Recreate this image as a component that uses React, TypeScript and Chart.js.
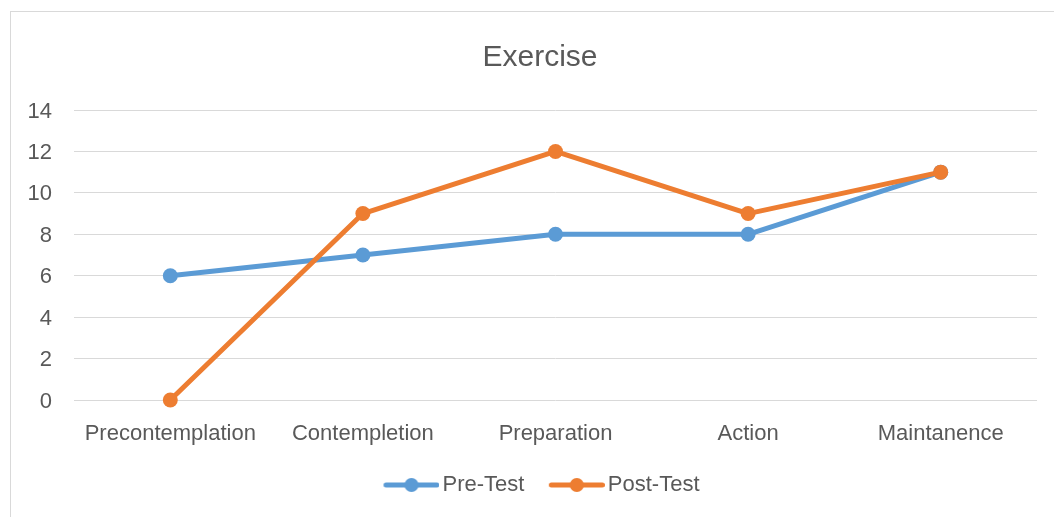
import React, { useEffect, useRef } from "react";
import { Chart, registerables } from "chart.js";

Chart.register(...registerables);

const categories = ["Precontemplation", "Contempletion", "Preparation", "Action", "Maintanence"];
const preTest = [6, 7, 8, 8, 11];
const postTest = [0, 9, 12, 9, 11];
const seriesNames = ["Pre-Test", "Post-Test"];
const seriesColors = ["#5B9BD5", "#ED7D31"];
const titleText = "Exercise";

const FONT = "'Liberation Sans', Arial, sans-serif";
const TEXT = "#595959";
const GRID = "#D9D9D9";

function makeLegendImage(color: string): HTMLCanvasElement {
  const c = document.createElement("canvas");
  c.width = 67;
  c.height = 16;
  const ctx = c.getContext("2d")!;
  const x0 = 11;
  const x1 = 67;
  ctx.strokeStyle = color;
  ctx.lineWidth = 5;
  ctx.lineCap = "round";
  ctx.beginPath();
  ctx.moveTo(x0 + 2.5, 8);
  ctx.lineTo(x1 - 2.5, 8);
  ctx.stroke();
  ctx.fillStyle = color;
  ctx.beginPath();
  ctx.arc((x0 + x1) / 2, 8, 7, 0, Math.PI * 2);
  ctx.fill();
  return c;
}

const borderPlugin = {
  id: "outerBorder",
  beforeDraw(chart: any) {
    const ctx = chart.ctx;
    ctx.save();
    ctx.strokeStyle = GRID;
    ctx.lineWidth = 1;
    ctx.strokeRect(10.5, 11.5, 2000, 2000);
    ctx.restore();
  },
};

export default function App() {
  const ref = useRef<HTMLCanvasElement>(null);
  useEffect(() => {
    document.body.style.margin = "0";
    const images = seriesColors.map(makeLegendImage);
    const chart = new Chart(ref.current!, {
      type: "line",
      data: {
        labels: categories,
        datasets: [
          {
            label: seriesNames[0],
            data: preTest,
            borderColor: seriesColors[0],
            backgroundColor: seriesColors[0],
            pointBackgroundColor: seriesColors[0],
            pointBorderWidth: 0,
            borderWidth: 5,
            pointRadius: 7.5,
            borderCapStyle: "round",
            borderJoinStyle: "round",
            tension: 0,
            clip: false,
            order: 1,
          },
          {
            label: seriesNames[1],
            data: postTest,
            borderColor: seriesColors[1],
            backgroundColor: seriesColors[1],
            pointBackgroundColor: seriesColors[1],
            pointBorderWidth: 0,
            borderWidth: 5,
            pointRadius: 7.5,
            borderCapStyle: "round",
            borderJoinStyle: "round",
            tension: 0,
            clip: false,
            order: 0,
          },
        ],
      },
      options: {
        animation: false,
        responsive: false,
        maintainAspectRatio: false,
        layout: { padding: { left: 43, right: 17, top: 30, bottom: 11 } },
        plugins: {
          tooltip: { enabled: false },
          title: {
            display: true,
            text: titleText,
            color: TEXT,
            font: { family: FONT, size: 30, weight: "normal" },
            padding: { top: 10, bottom: 34 },
          },
          legend: {
            display: true,
            position: "bottom",
            labels: {
              usePointStyle: true,
              pointStyleWidth: 51,
              padding: 21.4,
              color: TEXT,
              font: { family: FONT, size: 22 },
              generateLabels: (chart: any) => {
                const items = Chart.defaults.plugins.legend.labels.generateLabels(chart);
                items.sort((a: any, b: any) => a.datasetIndex - b.datasetIndex);
                items.forEach((it: any) => {
                  it.pointStyle = images[it.datasetIndex];
                });
                return items;
              },
            },
          },
        },
        scales: {
          x: {
            offset: true,
            grid: { display: false },
            border: { display: false },
            ticks: {
              color: TEXT,
              font: { family: FONT, size: 22 },
              padding: 13,
              maxRotation: 0,
              autoSkip: false,
            },
            afterFit: (scale: any) => {
              scale.height = 52.6;
            },
          },
          y: {
            min: 0,
            max: 14,
            grid: { color: GRID, lineWidth: 1, drawTicks: false },
            border: { display: false },
            ticks: {
              stepSize: 2,
              color: TEXT,
              font: { family: FONT, size: 22 },
              mirror: true,
              crossAlign: "far",
              padding: -46.5,
              labelOffset: 1.5,
            },
            afterFit: (scale: any) => {
              scale.width = 31;
            },
          },
        },
      },
      plugins: [borderPlugin],
    });
    return () => chart.destroy();
  }, []);
  return (
    <div style={{ position: "fixed", left: 0, top: 0, width: 1054, height: 517, background: "#fff" }}>
      <canvas ref={ref} width={1054} height={517} style={{ display: "block" }} />
    </div>
  );
}
